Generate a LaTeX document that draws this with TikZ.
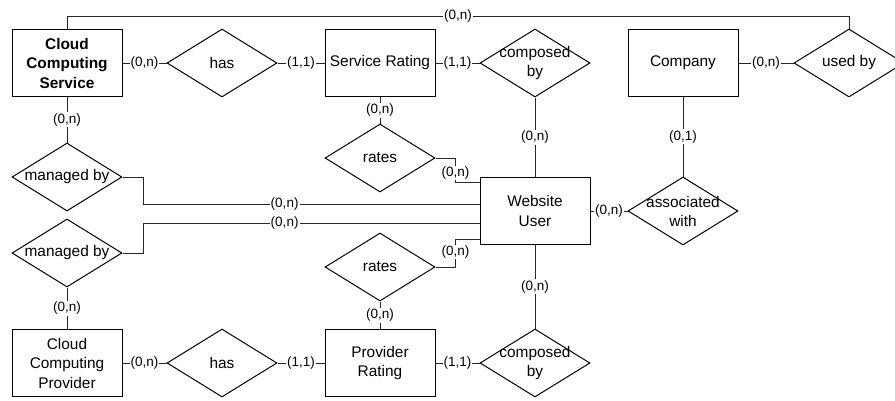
\documentclass[tikz,border=0pt]{standalone}
\usepackage{fontspec}
\setmainfont{Liberation Sans}
\usetikzlibrary{shapes.geometric}

\tikzset{
  entity/.style={draw=black, line width=1pt, rectangle, minimum width=110pt,
    minimum height=67pt, inner sep=2pt, align=center,
    font=\fontsize{15.4}{19.5}\selectfont},
  relation/.style={draw=black, line width=1pt, diamond, minimum width=110pt,
    minimum height=68pt, inner sep=0pt},
  reltext/.style={align=center, font=\fontsize{15.4}{19}\selectfont},
  link/.style={draw=black!85, line width=1pt},
  card/.style={fill=white, inner sep=1pt, font=\fontsize{13.5}{15}\selectfont}
}

\begin{document}
\begin{tikzpicture}[x=1pt, y=-1pt]
  \useasboundingbox (0,0) rectangle (895,400);

  % entities
  \node[entity, font=\fontsize{15.4}{19.5}\selectfont\bfseries] (ccs) at (67,63)
    {Cloud\\Computing\\Service};
  \node[entity] (sr)  at (380,63)  {Service Rating};
  \node[entity] (co)  at (683,63)  {Company};
  \node[entity] (wu)  at (535,211) {Website\\User};
  \node[entity] (ccp) at (67,363)  {Cloud\\Computing\\Provider};
  \node[entity] (pr)  at (380,363) {Provider\\Rating};

  % relationships
  \node[relation, label={[reltext]center:has}] (has1) at (222,63) {};
  \node[relation, label={[reltext]center:composed\\by}] (cb1) at (535,63) {};
  \node[relation, label={[reltext]center:used by}] (ub) at (849,63) {};
  \node[relation, label={[reltext]center:managed by}] (mb1) at (67,177) {};
  \node[relation, label={[reltext]center:rates}] (rt1) at (380,158) {};
  \node[relation, label={[reltext]center:associated\\with}] (aw) at (683,211) {};
  \node[relation, label={[reltext]center:managed by}] (mb2) at (67,253) {};
  \node[relation, label={[reltext]center:rates}] (rt2) at (380,267) {};
  \node[relation, label={[reltext]center:has}] (has2) at (222,363) {};
  \node[relation, label={[reltext]center:composed\\by}] (cb2) at (535,363) {};

  % top row
  \draw[link] (ccs.east) -- node[card] {(0,n)} (has1.west);
  \draw[link] (has1.east) -- node[card] {(1,1)} (sr.west);
  \draw[link] (sr.east) -- node[card] {(1,1)} (cb1.west);
  \draw[link] (co.east) -- node[card] {(0,n)} (ub.west);
  \draw[link] (ccs.north) -- ++(0,-13) -| node[card, pos=0.25] {(0,n)} (ub.north);

  % vertical links
  \draw[link] (ccs.south) -- node[card] {(0,n)} (mb1.north);
  \draw[link] (sr.south) -- node[card] {(0,n)} (rt1.north);
  \draw[link] (cb1.south) -- node[card] {(0,n)} (wu.north);
  \draw[link] (co.south) -- node[card] {(0,1)} (aw.north);
  \draw[link] (wu.south) -- node[card] {(0,n)} (cb2.north);
  \draw[link] (rt2.south) -- node[card] {(0,n)} (pr.north);
  \draw[link] (mb2.south) -- node[card] {(0,n)} (ccp.north);

  % website user links
  \draw[link] (wu.east) -- node[card] {(0,n)} (aw.west);
  \draw[link] (mb1.east) -- ++(21,0) |- node[card, pos=0.71] {(0,n)} ([yshift=7pt]wu.west);
  \draw[link] (mb2.east) -- ++(21,0) |- node[card, pos=0.71] {(0,n)} ([yshift=-12pt]wu.west);
  \draw[link] (rt1.east) -- ++(20,0) |- node[card, pos=0.31] {(0,n)} ([yshift=29pt]wu.west);
  \draw[link] (rt2.east) -- ++(20,0) |- node[card, pos=0.27] {(0,n)} ([yshift=-28pt]wu.west);

  % bottom row
  \draw[link] (ccp.east) -- node[card] {(0,n)} (has2.west);
  \draw[link] (has2.east) -- node[card] {(1,1)} (pr.west);
  \draw[link] (pr.east) -- node[card] {(1,1)} (cb2.west);
\end{tikzpicture}
\end{document}
